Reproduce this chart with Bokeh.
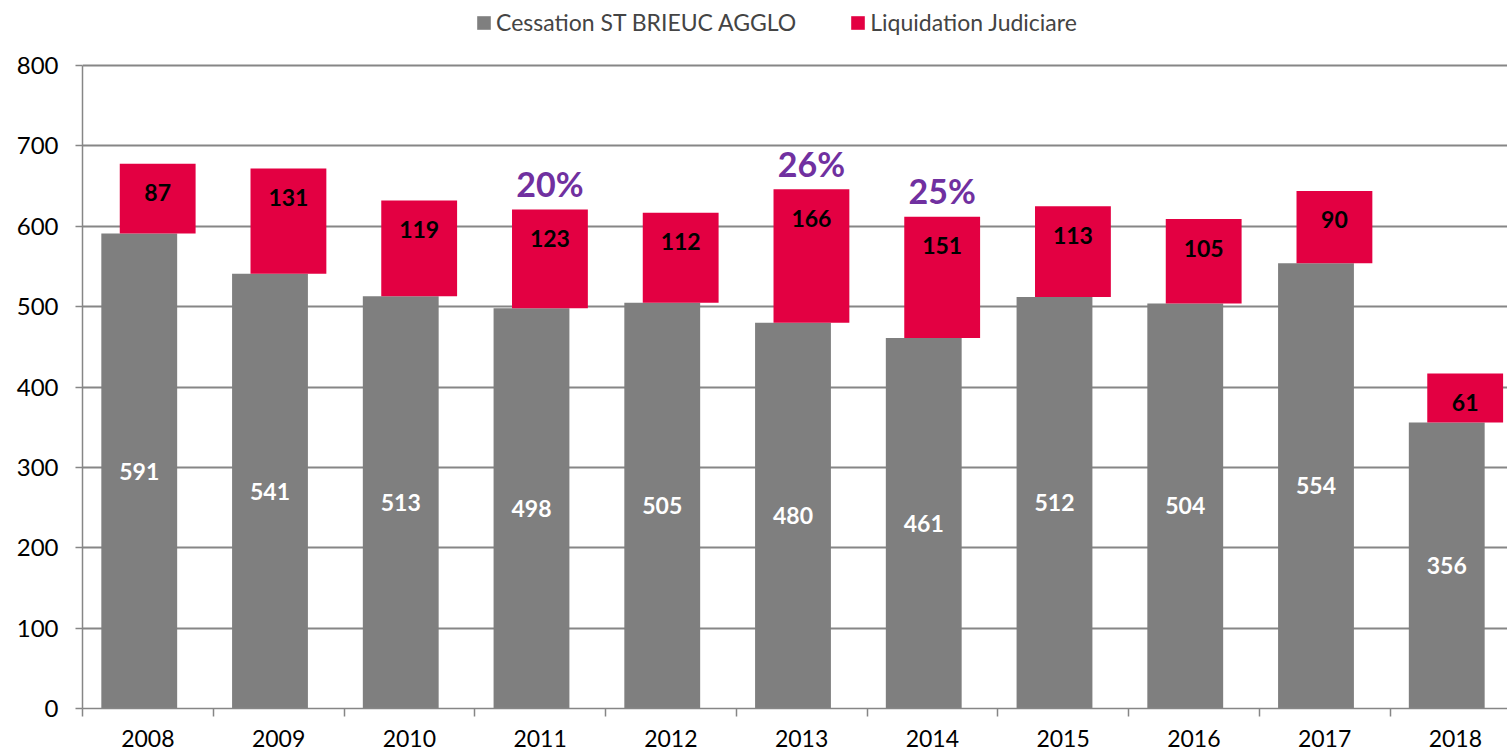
from bokeh.plotting import figure
from bokeh.models import (Range1d, FixedTicker, Legend, LegendItem, ColumnDataSource)
from bokeh.core.properties import value
from bokeh.embed import file_html
from bokeh.resources import INLINE

# ---- data ----
years = ["2008", "2009", "2010", "2011", "2012", "2013", "2014", "2015", "2016", "2017", "2018"]
cessation = [591, 541, 513, 498, 505, 480, 461, 512, 504, 554, 356]
liquidation = [87, 131, 119, 123, 112, 166, 151, 113, 105, 90, 61]
pct_years = ["2011", "2013", "2014"]
pct_labels = ["20%", "26%", "25%"]
y_ticks = [0, 100, 200, 300, 400, 500, 600, 700, 800]

series_names = ["Cessation ST BRIEUC AGGLO", "Liquidation Judiciare"]

GRAY = "#7F7F7F"
RED = "#E30042"
PURPLE = "#7030A0"
AXIS = "#868686"
FONT = "Lato"

n = len(years)
centers = [i + 0.5 for i in range(n)]
gray_x = [c - 0.066 for c in centers]
red_x = [c + 0.075 for c in centers]
totals = [a + b for a, b in zip(cessation, liquidation)]

src = ColumnDataSource(dict(
    gx=gray_x, rx=red_x, ces=cessation, liq=liquidation, tot=totals,
    half=[v / 2 for v in cessation],
    ces_txt=[str(v) for v in cessation], liq_txt=[str(v) for v in liquidation],
))

idx = [years.index(y) for y in pct_years]
psrc = ColumnDataSource(dict(
    x=[red_x[i] for i in idx], y=[totals[i] for i in idx], t=pct_labels,
))

# frame spans the full height above the axis; the top area holds the legend
p = figure(width=1507, height=751, output_backend="svg", toolbar_location=None,
           x_range=Range1d(0, 1425 / 130.75), y_range=Range1d(0, 881),
           min_border_left=82, min_border_top=0, min_border_right=0, min_border_bottom=43)
p.outline_line_color = None
p.background_fill_color = "white"

g = p.vbar(x="gx", width=0.58, bottom=0, top="ces", source=src, fill_color=GRAY, line_color=None)
r = p.vbar(x="rx", width=0.58, bottom="ces", top="tot", source=src, fill_color=RED, line_color=None)

p.text(x="gx", y="half", text="ces_txt", source=src, text_color="white",
       text_font=value(FONT), text_font_style="bold", text_font_size="23px",
       text_align="center", text_baseline="middle")
p.text(x="rx", y="tot", text="liq_txt", source=src, text_color="black",
       text_font=value(FONT), text_font_style="bold", text_font_size="23px",
       text_align="center", text_baseline="middle", y_offset=29)
p.text(x="x", y="y", text="t", source=psrc, text_color=PURPLE,
       text_font=value(FONT), text_font_style="bold", text_font_size="34px",
       text_align="center", text_baseline="middle", y_offset=-26)

# y axis
p.yaxis.ticker = FixedTicker(ticks=y_ticks)
p.yaxis.bounds = (0, 800)
p.yaxis.axis_line_color = AXIS
p.yaxis.axis_line_width = 1.5
p.yaxis.major_tick_line_color = AXIS
p.yaxis.major_tick_line_width = 1.5
p.yaxis.major_tick_out = 7
p.yaxis.major_tick_in = 0
p.yaxis.minor_tick_line_color = None
p.yaxis.major_label_standoff = 17
p.yaxis.major_label_text_font = FONT
p.yaxis.major_label_text_font_size = "24px"
p.yaxis.major_label_text_color = "black"

# x axis
p.xaxis.ticker = FixedTicker(ticks=centers, minor_ticks=list(range(n + 1)))
p.xaxis.major_label_overrides = {c: y for c, y in zip(centers, years)}
p.xaxis.axis_line_color = AXIS
p.xaxis.axis_line_width = 1.5
p.xaxis.major_tick_line_color = None
p.xaxis.major_tick_out = 0
p.xaxis.major_tick_in = 0
p.xaxis.minor_tick_line_color = AXIS
p.xaxis.minor_tick_line_width = 1.5
p.xaxis.minor_tick_out = 8
p.xaxis.minor_tick_in = 0
p.xaxis.major_label_standoff = 13
p.xaxis.major_label_text_font = FONT
p.xaxis.major_label_text_font_size = "23px"
p.xaxis.major_label_text_color = "black"

p.xgrid.grid_line_color = None
p.ygrid.ticker = FixedTicker(ticks=y_ticks)
p.ygrid.grid_line_color = AXIS
p.ygrid.grid_line_width = 1.8

legend = Legend(items=[LegendItem(label=series_names[0], renderers=[g]),
                       LegendItem(label=series_names[1], renderers=[r])],
                orientation="horizontal", location=(393, 672),
                padding=0, margin=0, spacing=53, label_standoff=4,
                glyph_width=17, glyph_height=17,
                label_text_font=FONT, label_text_font_size="23px",
                border_line_color=None, background_fill_alpha=0)
p.add_layout(legend, "center")

open("out.html", "w").write(file_html(p, INLINE))
